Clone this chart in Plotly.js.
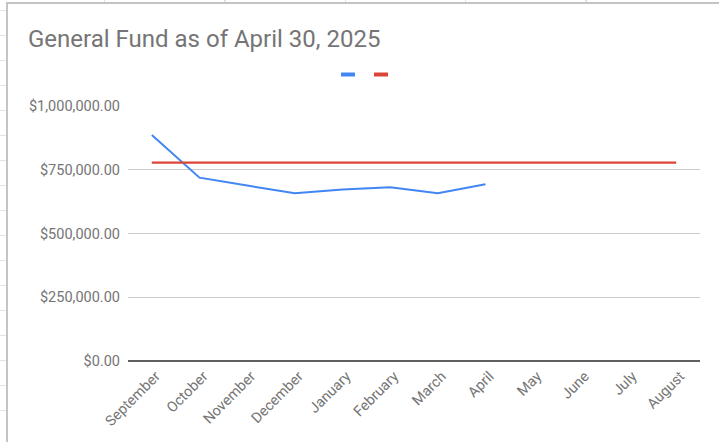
<!DOCTYPE html>
<html>
<head>
<meta charset="utf-8">
<script src="https://cdn.plot.ly/plotly-3.0.1.min.js"></script>
<style>
  html, body { margin: 0; padding: 0; background: #fff; width: 719px; height: 442px; overflow: hidden; }
  #sheetLeft { position: absolute; left: 0; top: 0; width: 6px; height: 442px;
    background-image: repeating-linear-gradient(to bottom, transparent 0px, transparent 24px, #e2e2e2 24px, #e2e2e2 25px);
    background-position: 0 -14px; }
  #sheetTop { position: absolute; left: 0; top: 0; width: 719px; height: 2px;
    background-image: repeating-linear-gradient(to right, transparent 0px, transparent 119px, #e2e2e2 119px, #e2e2e2 120.3px);
    background-position: -15px 0; }
  #frame { position: absolute; left: 6px; top: 2px; width: 713px; height: 440px;
    border-left: 2px solid #c4c4c4; border-top: 2px solid #c4c4c4; background: #fff; }
  #chart { width: 711px; height: 438px; }
</style>
</head>
<body>
<div id="sheetLeft"></div>
<div id="sheetTop"></div>
<div id="frame"><div id="chart"></div></div>
<script>
const months = ["September", "October", "November", "December", "January", "February",
                "March", "April", "May", "June", "July", "August"];
const balance = [886000, 719000, 688000, 658000, 673000, 681000, 658000, 693000,
                 null, null, null, null];
const target = [778000, 778000, 778000, 778000, 778000, 778000,
                778000, 778000, 778000, 778000, 778000, 778000];
const yTicks = [0, 250000, 500000, 750000, 1000000];
const titleText = "General Fund as of April 30, 2025";

const textColor = "#757575";
const font = { family: "Roboto, 'Noto Sans', sans-serif", size: 14.5, color: textColor };

const traces = [
  { x: months, y: balance, type: "scatter", mode: "lines", name: " ",
    line: { color: "#4285F4", width: 2 }, connectgaps: false, hoverinfo: "skip" },
  { x: months, y: target, type: "scatter", mode: "lines", name: " ",
    line: { color: "#DB4437", width: 2.2 }, hoverinfo: "skip" }
];

const W = 572, H = 255; // plot area px, for legend swatch placement
function px(x) { return (x - 120) / W; }
function py(y) { return 1 - (y - 102) / H; }

const layout = {
  width: 711, height: 438,
  margin: { l: 120, r: 19, t: 102, b: 81, pad: 0 },
  paper_bgcolor: "#ffffff", plot_bgcolor: "#ffffff",
  font: font,
  showlegend: false,
  title: { text: titleText, font: { family: "Roboto, sans-serif", size: 24, color: textColor },
           xref: "container", x: 20 / 711, xanchor: "left",
           yref: "container", y: 1 - 26 / 438, yanchor: "top" },
  xaxis: { type: "category", range: [-0.5, 11.5], showgrid: false, zeroline: false,
           showline: false, ticks: "", tickangle: -45, tickfont: font, fixedrange: true,
           ticklabelshift: 4, ticklabelstandoff: 3 },
  yaxis: { range: [0, 1000000], tickvals: yTicks, tickformat: "$,.2f",
           showgrid: true, gridcolor: "#cccccc", gridwidth: 1,
           zeroline: true, zerolinecolor: "#5f5f5f", zerolinewidth: 1.5,
           showline: false, ticks: "", ticklabelstandoff: 7, tickfont: font, fixedrange: true },
  shapes: [
    { type: "rect", xref: "paper", yref: "paper", x0: px(333), x1: px(347), y0: py(72.5), y1: py(68.5),
      fillcolor: "#4285F4", line: { width: 0 } },
    { type: "rect", xref: "paper", yref: "paper", x0: px(366), x1: px(380), y0: py(72.5), y1: py(68.5),
      fillcolor: "#DB4437", line: { width: 0 } }
  ]
};

Plotly.newPlot("chart", traces, layout, { staticPlot: true, displayModeBar: false });
</script>
</body>
</html>
